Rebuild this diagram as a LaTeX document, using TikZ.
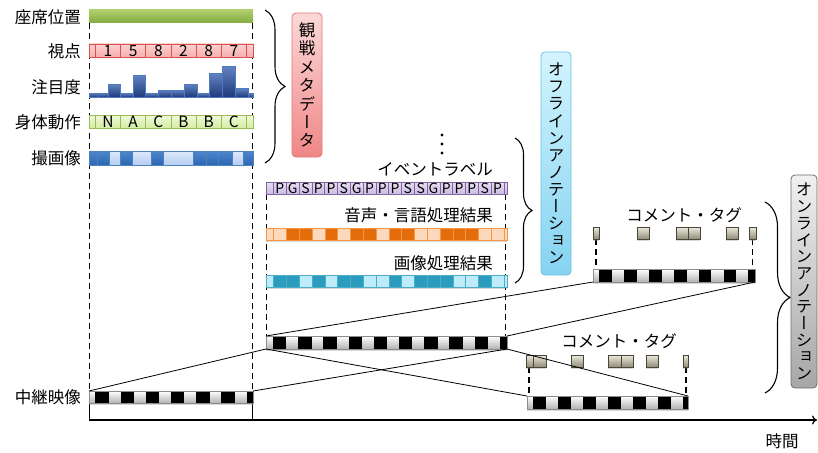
\documentclass[tikz,border=0pt]{standalone}
\usepackage{fontspec}
\setmainfont{Noto Sans CJK JP}
\newfontfamily\vjp[RawFeature={+vert}]{Noto Sans CJK JP}
\usetikzlibrary{decorations.pathreplacing,shadows,arrows.meta}
\definecolor{seatT}{HTML}{AECF6C}
\definecolor{seatB}{HTML}{86AA42}
\definecolor{pinkF}{HTML}{F6AEAD}
\definecolor{pinkT}{HTML}{FAD2D1}
\definecolor{pinkD}{HTML}{D9504D}
\definecolor{attT}{HTML}{6483C2}
\definecolor{attB}{HTML}{1E3A7A}
\definecolor{attD}{HTML}{4F7CC0}
\definecolor{bodyT}{HTML}{F0F9DC}
\definecolor{bodyB}{HTML}{D2EDA0}
\definecolor{bodyD}{HTML}{9BBB59}
\definecolor{camT}{HTML}{DDE9FB}
\definecolor{camB}{HTML}{B5CDF0}
\definecolor{camK}{HTML}{2A67B2}
\definecolor{camKT}{HTML}{4F86CC}
\definecolor{camD}{HTML}{4F81BD}
\definecolor{purT}{HTML}{E6DDF3}
\definecolor{purB}{HTML}{CBBCE4}
\definecolor{purD}{HTML}{8064A2}
\definecolor{orL}{HTML}{FCD9BC}
\definecolor{orK}{HTML}{E46C0A}
\definecolor{orD}{HTML}{F79646}
\definecolor{tlL}{HTML}{BDEBF9}
\definecolor{tlK}{HTML}{2B9BBE}
\definecolor{tlD}{HTML}{4BACC6}
\definecolor{tagT}{HTML}{EDEBDF}
\definecolor{tagB}{HTML}{8F8C78}
\definecolor{tagD}{HTML}{4A4636}
\definecolor{metaT}{HTML}{FCD8D8}
\definecolor{metaB}{HTML}{F08686}
\definecolor{metaD}{HTML}{E07878}
\definecolor{offT}{HTML}{D2F4FE}
\definecolor{offB}{HTML}{85D3F1}
\definecolor{offD}{HTML}{6CC2E3}
\definecolor{onT}{HTML}{F0F0F0}
\definecolor{onB}{HTML}{A6A6A6}
\definecolor{onD}{HTML}{6E6E6E}
\tikzset{
  bar/.style={rectangle, inner sep=0pt, outer sep=0pt, anchor=north west},
  lbl/.style={inner sep=0pt, anchor=east},
  guide/.style={dash pattern=on 6pt off 4pt, line width=1.1pt},
  brc/.style={decorate, decoration={brace, amplitude=#1}, line width=1.1pt},
  brc/.default=18pt,
  shd/.style={drop shadow={shadow xshift=0pt, shadow yshift=-1.5pt, opacity=0.3}},
  filmbar/.style={top color=white, bottom color=black!30, shd},
  tagbox/.style={top color=tagT, bottom color=tagB, draw=tagD, line width=0.6pt, shd},
  link/.style={line width=0.8pt},
  vbox/.style={rectangle, rounded corners=4pt, inner sep=0pt, outer sep=0pt, anchor=north west, line width=0.8pt},
  vtext/.style={align=center, inner sep=0pt, font=\vjp\fontsize{16.5}{#1}\selectfont},
  cell/.style={inner sep=0pt, font=\fontsize{15.5}{15.5}\selectfont},
  pcell/.style={inner sep=0pt, font=\fontsize{14}{14}\selectfont},
}
\newcommand{\barnode}[6]{%
  \node[bar, #1, minimum width={(#5-#3)*1pt}, minimum height={(#6-#4)*1pt}] (#2) at (#3,#4) {};}
\newcommand{\film}[8]{%
  \barnode{filmbar}{#1}{#2}{#3}{#4}{#5}
  \begin{scope}
    \clip (#2,#3) rectangle (#4,#5);
    \foreach \k in {0,...,12} {\fill[black] ({#6+\k*#7},#3) rectangle ({#6+\k*#7+#8},#5);}
  \end{scope}
  \draw[black!45, line width=0.6pt] (#1.north west) rectangle (#1.south east);}
\begin{document}
\begin{tikzpicture}[x=1pt,y=-1pt,font=\fontsize{16.5}{17}\selectfont]
\fill[white] (0,0) rectangle (818,452);
\useasboundingbox (0,0) rectangle (818,452);

% guides
\draw[guide] (89.5,23) -- (89.5,391);
\draw[guide] (252.5,23) -- (252.5,391);
\draw[line width=1.1pt] (89.5,403) -- (89.5,420);
\draw[line width=1.1pt] (252.5,403) -- (252.5,420);
\draw[guide] (266.5,194) -- (266.5,336);
\draw[guide] (505.5,194) -- (505.5,336);
\draw[guide] (596,239) -- (596,269);
\draw[guide] (752.5,239) -- (752.5,269);
\draw[guide] (529,367) -- (529,396);
\draw[guide] (686,367) -- (686,396);

% axis
\draw[line width=1.2pt, -{To[length=5pt,width=9pt]}] (89,420) -- (817,420);
\node[inner sep=0pt] (time) at (782,441) {時間};

% left labels
\node[lbl] (lseat) at (81,17) {座席位置};
\node[lbl] (lview) at (81,51) {視点};
\node[lbl] (latt) at (81,87) {注目度};
\node[lbl] (lbody) at (81,122) {身体動作};
\node[lbl] (lcam) at (81,158) {撮画像};
\node[lbl] (lrelay) at (81,397) {中継映像};

% seat bar
\barnode{top color=seatT, bottom color=seatB}{seat}{89}{10}{253}{23}

% viewpoint bar
\barnode{draw=pinkD, line width=0.7pt, top color=pinkT, bottom color=pinkF}{view}{89}{44}{253}{57}
\foreach \k in {0,...,6} \draw[pinkD, line width=0.5pt] ({95.3+25.2*\k},44) -- ++(0,13);
\foreach \v [count=\i from 0] in {1,5,8,2,8,7} \node[cell] (v\i) at ({107.9+25.2*\i},51) {\v};

% attention histogram
\foreach \a/\b/\t in {89/98/93, 98/108/93, 108/120/84, 120/133/93, 133/145/75, 145/158/93, 158/171/90, 171/184/90, 184/197/84, 197/209/93, 209/222/73, 222/235/66, 235/248/88, 248/253/93}
  \draw[attD, line width=0.6pt, top color=attT, bottom color=attB] (\a,\t) rectangle (\b,97);

% body motion bar
\barnode{draw=bodyD, line width=0.7pt, top color=bodyT, bottom color=bodyB}{body}{89}{115}{253}{128}
\foreach \k in {0,...,6} \draw[bodyD, line width=0.5pt] ({95.3+25.2*\k},115) -- ++(0,13);
\foreach \v [count=\i from 0] in {N,A,C,B,B,C} \node[cell] (b\i) at ({107.9+25.2*\i},122) {\v};

% camera bar
\barnode{draw=camD, line width=0.7pt, top color=camT, bottom color=camB}{cam}{89}{151}{253}{165}
\foreach \a/\b in {89/97, 97/109, 120/132, 151/163, 193/206, 206/218, 218/232, 243/253}
  \draw[camD, line width=0.4pt, top color=camKT, bottom color=camK] (\a,151) rectangle (\b,165);

% brace and meta box
\draw[brc=20pt] (265,10) -- (265,163);
\node[vbox, draw=metaD, top color=metaT, bottom color=metaB, minimum width=30pt, minimum height=144pt] (meta) at (292,13) {};
\node[vtext=18.4pt] (metatxt) at (meta.center) {観\\戦\\メ\\タ\\デ\\ー\\タ};

% dots
\foreach \yy in {135,144,153} \fill (442,\yy) circle (1.6);

% event label bar
\node[lbl] (levent) at (493,169) {イベントラベル};
\barnode{draw=purD, line width=0.7pt, top color=purT, bottom color=purB}{event}{266}{182}{507}{194}
\foreach \k in {0,...,18} \draw[purD, line width=0.5pt] ({273.5+12.8*\k},182) -- ++(0,12);
\foreach \v [count=\i from 0] in {P,G,S,P,P,S,G,P,P,P,S,S,G,P,P,P,S,P} \node[pcell] (e\i) at ({279.9+12.8*\i},188.3) {\v};

% speech bar
\node[lbl] (lspeech) at (493,215) {音声・言語処理結果};
\barnode{fill=orL, shd}{speech}{266}{228}{507}{240}
\foreach \i in {1,2,4,6,7,9,10,13,14,15} \fill[orK] ({273.5+12.8*\i},228) rectangle ++(12.8,12);
\foreach \k in {0,...,18} \draw[orD, line width=0.4pt] ({273.5+12.8*\k},228) -- ++(0,12);
\draw[orD, line width=0.7pt] (speech.north west) rectangle (speech.south east);

% image bar
\node[lbl] (limage) at (493,263) {画像処理結果};
\barnode{fill=tlL, shd}{image}{266}{275}{507}{287}
\foreach \i in {0,1,3,5,6,9,11,12,13,16} \fill[tlK] ({273.5+12.8*\i},275) rectangle ++(12.8,12);
\foreach \k in {0,...,18} \draw[tlD, line width=0.4pt] ({273.5+12.8*\k},275) -- ++(0,12);
\draw[tlD, line width=0.7pt] (image.north west) rectangle (image.south east);

% offline brace and box
\draw[brc=17pt] (515,138) -- (515,283);
\node[vbox, draw=offD, top color=offT, bottom color=offB, minimum width=30pt, minimum height=223pt] (off) at (541,52) {};
\node[vtext=17.1pt] (offtxt) at (off.center) {オ\\フ\\ラ\\イ\\ン\\ア\\ノ\\テ\\ー\\シ\\ョ\\ン};

% online brace and box
\draw[brc=25pt] (765,202) -- (765,393);
\node[vbox, draw=onD, top color=onT, bottom color=onB, minimum width=26pt, minimum height=213pt] (on) at (791,175) {};
\node[vtext=16.7pt] (ontxt) at (on.center) {オ\\ン\\ラ\\イ\\ン\\ア\\ノ\\テ\\ー\\シ\\ョ\\ン};

% comment tags
\node[inner sep=0pt] (ctag1) at (684,215) {コメント・タグ};
\foreach \a/\b [count=\i] in {593/599, 637/649, 676/688, 688/700, 726/738, 749/756}
  \node[bar, tagbox, minimum width={(\b-\a)*1pt}, minimum height=12pt] (tu\i) at (\a,227) {};
\node[inner sep=0pt] (ctag2) at (619,341) {コメント・タグ};
\foreach \a/\b [count=\i] in {526/533, 533/546, 571/583, 608/621, 621/633, 646/658, 683/688}
  \node[bar, tagbox, minimum width={(\b-\a)*1pt}, minimum height=12pt] (tl\i) at (\a,355) {};

% film strips
\film{relay}{89}{391}{253}{403}{95.3}{25.2}{13.5}
\film{mid}{266}{336}{507}{349}{273}{25.2}{13.3}
\film{up}{593}{269}{755}{282}{599}{24.9}{12.8}
\film{low}{527}{396}{688}{409}{533}{25}{12.5}

% links
\draw[link] (relay.north west) -- (mid.south west);
\draw[link] (relay.north east) -- (mid.south east);
\draw[link] (mid.north west) -- (up.south west);
\draw[link] (mid.north east) -- (up.south east);
\draw[link] (mid.south west) -- (low.north west);
\draw[link] (mid.south east) -- (low.north east);
\end{tikzpicture}
\end{document}
